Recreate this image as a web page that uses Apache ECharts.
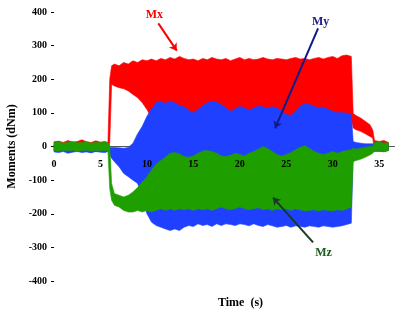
<!DOCTYPE html>
<html lang="en">
	<head>
		<meta charset="UTF-8" />
		<title>Moments</title>
		<script src="https://cdn.jsdelivr.net/npm/echarts@6.0.0/dist/echarts.min.js"></script>
		<style>
			html, body { margin: 0; padding: 0; background: #fff; }
		</style>
	</head>
	<body>
		<div id="main" style="width: 407px; height: 312px"></div>
		<script type="text/javascript">
			const time = [0,0.5,1,1.5,2,2.5,3,3.5,4,4.5,5,5.5,5.8,6,6.2,
				6.5,7,7.5,8,8.5,9,9.5,10,10.5,11,11.5,12,12.5,13,13.5,14,14.5,15,15.5,16,16.5,17,17.5,18,18.5,19,19.5,
				20,20.5,21,21.5,22,22.5,23,23.5,24,24.5,25,25.5,26,26.5,27,27.5,28,28.5,29,29.5,30,30.5,31,31.5,32,
				32.2,32.5,33,33.5,34,34.3,34.5,35,35.5,36];

			// upper / lower envelope of each signal (dNm)
			const mxHigh = [14,16,12,18,13,15,20,14,12,17,13,15,10,200,240,
				245,240,250,245,255,250,258,255,260,255,262,258,265,260,268,262,258,260,255,262,258,265,260,258,262,255,260,
				265,258,262,258,260,265,260,258,262,260,258,262,265,260,262,258,262,265,260,265,268,262,270,272,268,
				98,92,85,75,65,50,18,15,18,12];
			const mxLow = [-12,-14,-10,-15,-12,-11,-14,-13,-10,-15,-12,-14,-10,10,185,
				180,175,172,165,155,145,130,110,85,80,80,80,80,80,80,80,80,80,80,80,80,80,80,80,80,80,80,
				80,80,80,80,80,80,80,80,80,80,80,80,80,80,80,80,80,80,80,80,80,80,80,80,80,
				55,50,45,38,30,25,-12,-14,-12,-10];
			const myHigh = [6,8,5,7,6,8,5,6,7,5,6,8,6,-2,-3,
				-3,-4,-5,-3,10,38,60,90,112,130,135,128,135,130,122,118,108,100,110,122,130,135,132,125,115,105,112,
				120,115,108,115,120,118,115,118,115,105,95,92,105,120,128,125,120,115,118,110,105,100,102,98,95,
				15,12,10,8,8,8,10,12,10,8];
			const myLow = [-16,-18,-15,-20,-17,-15,-18,-16,-19,-15,-17,-18,-15,-25,-35,
				-45,-60,-80,-90,-100,-110,-150,-200,-225,-235,-240,-245,-250,-245,-250,-240,-235,-238,-230,-235,-232,-238,-230,-235,-230,-232,-235,
				-230,-232,-236,-230,-235,-238,-232,-236,-240,-238,-235,-240,-236,-238,-240,-236,-238,-240,-236,-238,-240,-238,-236,-232,-228,
				-15,-15,-14,-12,-12,-12,-15,-14,-16,-12];
			const mzHigh = [12,14,10,13,15,11,12,14,10,13,12,14,12,5,-110,
				-140,-145,-150,-145,-135,-122,-105,-90,-70,-52,-42,-32,-20,-18,-22,-30,-32,-28,-20,-14,-12,-15,-20,-28,-30,-26,-20,
				-24,-28,-20,-15,-8,0,-6,-15,-24,-28,-24,-18,-10,-2,2,-6,-15,-20,-24,-20,-15,-20,-15,-12,-10,
				-5,-8,-5,-2,0,0,12,14,10,12];
			const mzLow = [-12,-14,-11,-13,-12,-15,-12,-11,-14,-12,-13,-12,-12,-125,-160,
				-175,-180,-190,-195,-195,-190,-195,-190,-195,-190,-185,-190,-185,-190,-185,-188,-185,-190,-185,-188,-185,-190,-185,-180,-185,-188,-185,
				-180,-185,-188,-185,-182,-188,-185,-190,-185,-188,-185,-190,-185,-188,-192,-190,-188,-192,-188,-190,-192,-188,-190,-186,-180,
				-45,-42,-38,-32,-25,-20,-14,-12,-15,-12];

			const xTicks = { min: 0, max: 36.7, interval: 5 };
			const yTicks = { min: -400, max: 400, interval: 100 };

			const font = "'Liberation Serif', 'Times New Roman', serif";

			function band(name, high, low, color) {
				return {
					type: "custom",
					name: name,
					silent: true,
					data: [[0, 0]],
					renderItem: function (params, api) {
						const pts = [];
						for (let i = 0; i < time.length; i++) pts.push(api.coord([time[i], high[i]]));
						for (let i = time.length - 1; i >= 0; i--) pts.push(api.coord([time[i], low[i]]));
						return {
							type: "polygon",
							shape: { points: pts },
							style: { fill: color, stroke: color, lineWidth: 0.6 },
						};
					},
				};
			}

			// label + arrow for each signal, in data units
			function note(text, color, arrowColor, at, from, to) {
				return {
					type: "line",
					data: [],
					silent: true,
					markPoint: {
						symbol: "circle",
						symbolSize: 0,
						label: { show: true, formatter: text, color: color, fontFamily: font, fontWeight: "bold", fontSize: 12, position: "inside" },
						data: [{ coord: at }],
					},
					markLine: {
						symbol: ["none", "arrow"],
						symbolSize: 7,
						label: { show: false },
						lineStyle: { color: arrowColor, width: 2, type: "solid" },
						data: [[{ coord: from }, { coord: to }]],
					},
				};
			}

			const chart = echarts.init(document.getElementById("main"));
			chart.setOption({
				animation: false,
				grid: { left: 54, right: 12, top: 12, bottom: 31, outerBoundsMode: "none", containLabel: false },
				xAxis: {
					type: "value", min: xTicks.min, max: xTicks.max, interval: xTicks.interval,
					position: "bottom",
					offset: -134.5, // lift the labels up to the zero line
					axisLine: { show: false, onZero: false },
					axisTick: { show: false }, splitLine: { show: false },
					axisLabel: { fontFamily: font, fontWeight: "bold", fontSize: 10, color: "#000", margin: 13, showMaxLabel: false },
					z: 10,
				},
				yAxis: {
					type: "value", min: yTicks.min, max: yTicks.max, interval: yTicks.interval,
					axisLine: { show: false },
					axisTick: { show: true, length: 3, lineStyle: { color: "#000" } },
					splitLine: { show: false },
					axisLabel: { fontFamily: font, fontWeight: "bold", fontSize: 10, color: "#000", margin: 7 },
					name: "Moments (dNm)",
					nameLocation: "middle",
					nameGap: 34,
					nameTextStyle: { fontFamily: font, fontWeight: "bold", fontSize: 12, color: "#000" },
				},
				graphic: [
					{
						type: "text", left: 218, top: 297,
						style: { text: "Time  (s)", font: "bold 12px " + font, fill: "#000" },
					},
				],
				series: [
					// zero line, drawn under the signals
					{
						type: "line",
						data: [],
						silent: true,
						markLine: {
							z: 1,
							symbol: "none",
							label: { show: false },
							lineStyle: { color: "#555", width: 1, type: "solid" },
							data: [{ yAxis: 0 }],
						},
					},
					band("Mx", mxHigh, mxLow, "#ff0000"),
					band("My", myHigh, myLow, "#2040ff"),
					band("Mz", mzHigh, mzLow, "#1f9e00"),
					note("Mx", "#ff0000", "#ff0000", [10.8, 392], [11.23, 366], [13.21, 285]),
					note("My", "#1a1a8a", "#0d1a8f", [28.7, 372], [28.42, 351], [23.79, 54]),
					note("Mz", "#1d5a1d", "#163a26", [29.0, -315], [27.88, -285], [23.57, -152]),
				],
			});
		</script>
	</body>
</html>
